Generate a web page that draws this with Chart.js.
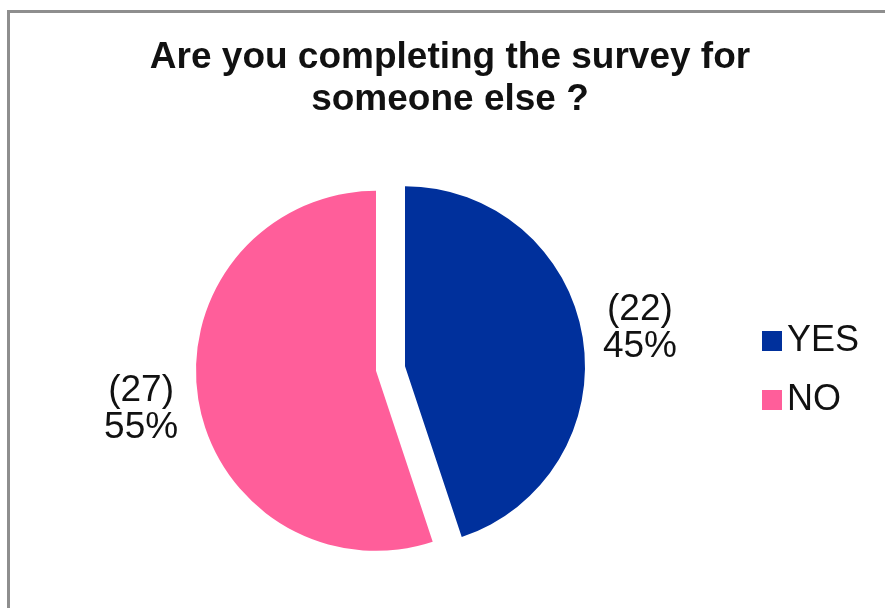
<!DOCTYPE html>
<html>
<head>
<meta charset="utf-8">
<title>Are you completing the survey for someone else ?</title>
<script src="https://cdn.jsdelivr.net/npm/chart.js@4/dist/chart.umd.min.js"></script>
<style>
  html, body { margin: 0; padding: 0; background: #ffffff; overflow: hidden; }
  #wrap { position: relative; width: 885px; height: 608px; }
  #frame {
    position: absolute; left: 7px; top: 10px; right: -10px; bottom: -10px;
    border-top: 3px solid #8e8e8e; border-left: 3px solid #8e8e8e;
    pointer-events: none;
  }
  canvas { position: absolute; left: 0; top: 0; }
</style>
</head>
<body>
<div id="wrap">
  <canvas id="chart" width="885" height="608"></canvas>
  <div id="frame"></div>
</div>
<script>
// Survey answers
const titleLines = ['Are you completing the survey for', 'someone else ?'];
const answers = ['YES', 'NO'];
const counts = [22, 27];
const sliceColors = ['#00309C', '#FF5E9A'];

const FONT = '"Liberation Sans", Arial, Helvetica, sans-serif';
const EXPLODE = 14.7;        // px each slice is pulled out along its mid-angle
const LABEL_RADIUS = 1.322;  // label distance as a multiple of the slice radius

// Draw each slice shifted outward along its own bisector.
const explodedSlices = {
  id: 'explodedSlices',
  beforeDatasetDraw(chart, args) {
    const ctx = chart.ctx;
    args.meta.data.forEach((arc) => {
      const mid = (arc.startAngle + arc.endAngle) / 2;
      ctx.save();
      ctx.translate(Math.cos(mid) * EXPLODE, Math.sin(mid) * EXPLODE);
      arc.draw(ctx, chart.chartArea);
      ctx.restore();
    });
    return false;
  }
};

// Title, value labels and legend.
const annotations = {
  id: 'annotations',
  afterDraw(chart) {
    const ctx = chart.ctx;
    ctx.save();
    ctx.fillStyle = '#111111';

    // title
    ctx.font = 'bold 37px ' + FONT;
    ctx.textAlign = 'center';
    ctx.textBaseline = 'alphabetic';
    ctx.fillText(titleLines[0], 450, 68);
    ctx.fillText(titleLines[1], 450, 110);

    // value labels next to each slice
    const ds = chart.data.datasets[0];
    const total = ds.data.reduce((a, b) => a + b, 0);
    const meta = chart.getDatasetMeta(0);
    ctx.font = '37px ' + FONT;
    ctx.textBaseline = 'middle';
    meta.data.forEach((arc, i) => {
      const mid = (arc.startAngle + arc.endAngle) / 2;
      const d = EXPLODE + arc.outerRadius * LABEL_RADIUS;
      const lx = arc.x + Math.cos(mid) * d;
      const ly = arc.y + Math.sin(mid) * d;
      const v = ds.data[i];
      ctx.fillText('(' + v + ')', lx, ly - 18);
      ctx.fillText(Math.round(v / total * 100) + '%', lx, ly + 19);
    });

    // legend
    ctx.font = '36px ' + FONT;
    ctx.textAlign = 'left';
    chart.data.labels.forEach((lab, i) => {
      const cy = 341 + i * 59;
      ctx.fillStyle = ds.backgroundColor[i];
      ctx.fillRect(762, cy - 10, 20, 20);
      ctx.fillStyle = '#111111';
      ctx.fillText(lab, 787, cy);
    });
    ctx.restore();
  }
};

new Chart(document.getElementById('chart'), {
  type: 'pie',
  data: {
    labels: answers,
    datasets: [{
      data: counts,
      backgroundColor: sliceColors,
      borderWidth: 0,
      hoverOffset: 0
    }]
  },
  options: {
    responsive: false,
    animation: false,
    events: [],
    radius: 180,
    layout: { padding: { left: 0, right: 104, top: 150, bottom: 21 } },
    plugins: {
      legend: { display: false },
      title: { display: false },
      tooltip: { enabled: false }
    }
  },
  plugins: [explodedSlices, annotations]
});
</script>
</body>
</html>
